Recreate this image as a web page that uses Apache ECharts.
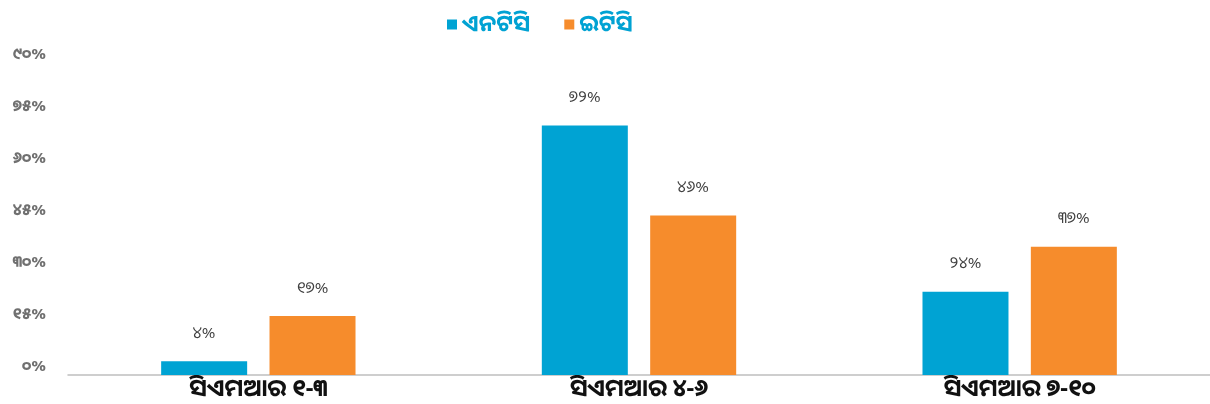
<!DOCTYPE html>
<html>
<head>
<meta charset="utf-8">
<script src="https://cdn.jsdelivr.net/npm/echarts@6/dist/echarts.min.js"></script>
<style>
  html, body { margin: 0; padding: 0; background: #fff; }
  #chart { width: 1210px; height: 404px; }
</style>
</head>
<body>
<div id="chart"></div>
<script>
// categories and values
const categories = ['ସିଏମଆର ୧-୩', 'ସିଏମଆର ୪-୬', 'ସିଏମଆର ୭-୧୦']
const seriesNames = ['ଏନଟିସି', 'ଇଟିସି']
const ntcValues = [4, 72, 24]
const etcValues = [17, 46, 37]
const odiaDigits = ['୦', '୧', '୨', '୩', '୪', '୫', '୬', '୭', '୮', '୯']

const font = "'Noto Sans Oriya', 'Noto Sans Odia', 'Noto Sans', sans-serif"
const toOdia = (n) => String(n).replace(/[0-9]/g, d => odiaDigits[+d])

const chart = echarts.init(document.getElementById('chart'))

const barLabel = {
  show: true,
  position: 'top',
  distance: 20,
  color: '#404040',
  fontSize: 16,
  fontFamily: font,
  formatter: (p) => toOdia(p.value) + '%',
}

chart.setOption({
  animation: false,
  textStyle: { fontFamily: font },
  legend: {
    top: 8,
    left: 442,
    itemWidth: 10,
    itemHeight: 10,
    itemGap: 34,
    icon: 'rect',
    textStyle: { color: '#00a2d3', fontSize: 23, fontWeight: 'bold', fontFamily: font },
    data: seriesNames,
  },
  grid: { left: 68, right: 0, top: 63, bottom: 29, containLabel: false },
  xAxis: {
    type: 'category',
    data: categories,
    axisLine: { lineStyle: { color: '#bfbfbf', width: 1.5 } },
    axisTick: { show: false },
    axisLabel: {
      color: '#111',
      fontSize: 24,
      fontWeight: 'bold',
      fontFamily: font,
      margin: 2,
    },
  },
  yAxis: {
    type: 'value',
    min: 0,
    max: 90,
    interval: 15,
    splitLine: { show: false },
    axisLine: { show: false },
    axisTick: { show: false },
    axisLabel: {
      color: '#707070',
      fontSize: 16,
      fontWeight: 'bold',
      fontFamily: font,
      margin: 22,
      verticalAlign: 'bottom',
      lineHeight: 18,
      formatter: (v) => toOdia(v) + '%',
    },
  },
  series: [
    {
      name: seriesNames[0],
      type: 'bar',
      data: ntcValues,
      barWidth: 86,
      barGap: '26%',
      itemStyle: { color: '#00a3d3' },
      label: barLabel,
    },
    {
      name: seriesNames[1],
      type: 'bar',
      data: etcValues,
      barWidth: 86,
      itemStyle: { color: '#f68c2c' },
      label: barLabel,
    },
  ],
})
</script>
</body>
</html>
